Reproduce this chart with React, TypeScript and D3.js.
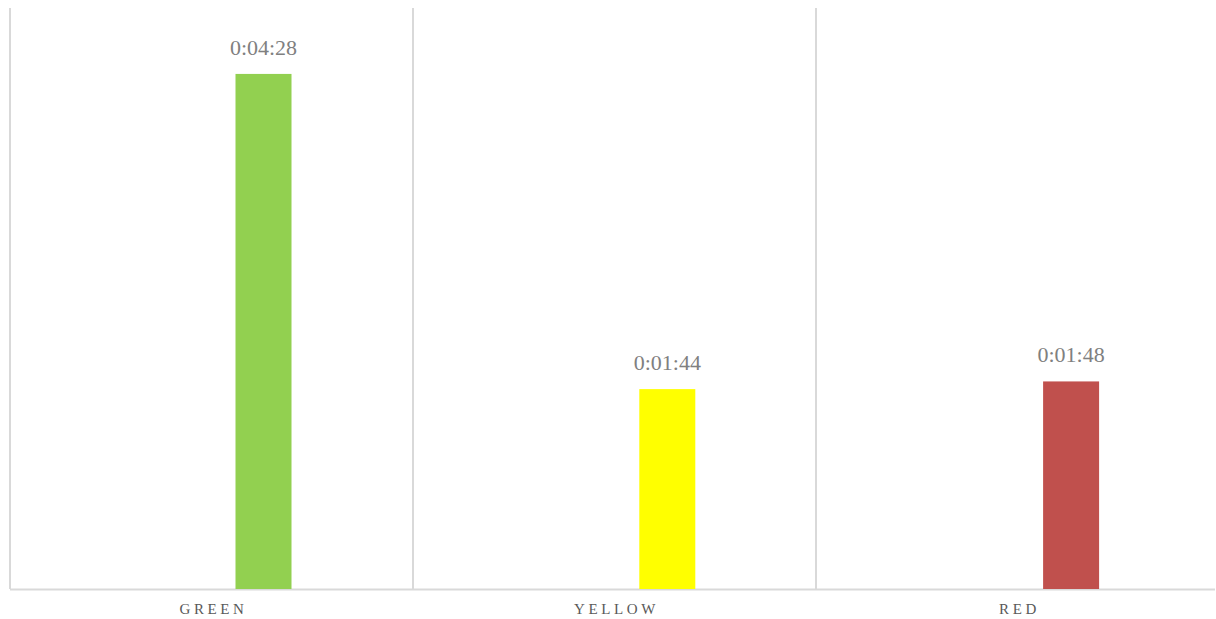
import React from "react";
import * as d3 from "d3";

const categories = ["GREEN", "YELLOW", "RED"];
const valuesSec = [268, 104, 108];
const valueLabels = ["0:04:28", "0:01:44", "0:01:48"];
const colors = ["#92d050", "#ffff00", "#c0504d"];

const W = 1216;
const H = 619;
const left = 10;
const right = 1219;
const top = 8;
const bottom = 589;

export default function App() {
  const x = d3.scaleBand<string>().domain(categories).range([left, right]).padding(0);
  const y = d3.scaleLinear().domain([0, 302.3]).range([bottom, top]);
  const bw = x.bandwidth();
  const barW = 56;
  const barOff = 225.5;
  return (
    <svg width={W} height={H} style={{ position: "absolute", left: 0, top: 0 }}>
      <rect width={W} height={H} fill="#fff" />
      {categories.map((c) => (
        <line key={"g" + c} x1={x(c)!} x2={x(c)!} y1={top} y2={bottom} stroke="#d9d9d9" strokeWidth={2} />
      ))}
      <line x1={left} x2={1215} y1={bottom + 0.5} y2={bottom + 0.5} stroke="#d9d9d9" strokeWidth={2} />
      {categories.map((c, i) => {
        const bx = x(c)! + barOff + i * 0.8;
        return (
          <g key={c}>
            <rect x={bx} y={y(valuesSec[i])} width={barW} height={bottom - y(valuesSec[i])} fill={colors[i]} />
            <text
              x={bx + barW / 2}
              y={y(valuesSec[i]) - 19}
              textAnchor="middle"
              fontFamily="'Liberation Serif', 'DejaVu Serif', serif"
              fontSize={22}
              fill="#808080"
            >
              {valueLabels[i]}
            </text>
            <text
              x={x(c)! + bw / 2 + 2}
              y={614}
              textAnchor="middle"
              fontFamily="'Liberation Serif', 'DejaVu Serif', serif"
              fontSize={15}
              letterSpacing={3.6}
              fill="#595959"
            >
              {c}
            </text>
          </g>
        );
      })}
    </svg>
  );
}
